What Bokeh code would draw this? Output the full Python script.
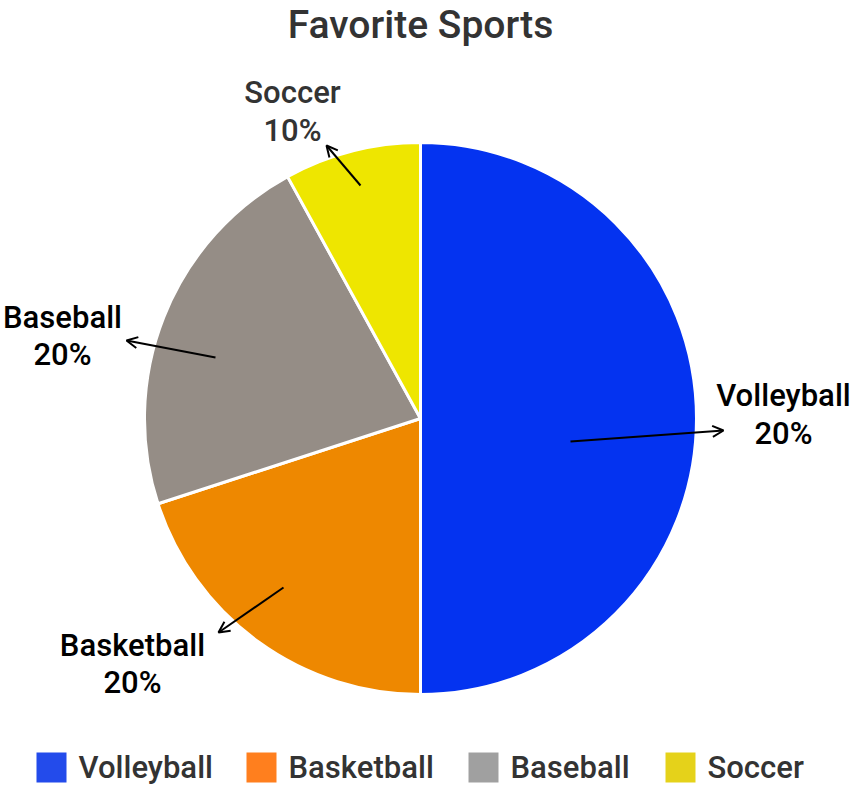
import math
from bokeh.plotting import figure
from bokeh.models import Range1d, Arrow, OpenHead, ColumnDataSource
from bokeh.core.properties import value
from bokeh.embed import file_html
from bokeh.resources import INLINE

# ---- data ----
categories = ["Volleyball", "Basketball", "Baseball", "Soccer"]
counts = [25, 10, 11, 4]
label_pcts = ["20%", "20%", "20%", "10%"]
slice_colors = ["#0433F0", "#EE8800", "#958D86", "#EEE600"]
legend_colors = ["#234BEB", "#FF7F1E", "#A0A0A0", "#E5D21A"]
title = "Favorite Sports"

# ---- layout (page pixels -> data) ----
W, H = 853, 786
def P(px, py):
    return px, H - py

FONT = value("Roboto Medium, Roboto")
TXT_SHIFT = 12  # renderer draws alphabetic baseline lower than requested
cx, cy = P(420, 418)
R = 276

p = figure(width=W, height=H, x_range=Range1d(0, W), y_range=Range1d(0, H),
           output_backend="svg", toolbar_location=None, min_border=0)
p.xaxis.visible = False
p.yaxis.visible = False
p.grid.visible = False
p.outline_line_color = None

total = sum(counts)
starts, ends = [], []
cum = 0
for c in counts:
    s = math.pi / 2 - 2 * math.pi * cum / total
    e = s - 2 * math.pi * c / total
    starts.append(s)
    ends.append(e)
    cum += c

src = ColumnDataSource(dict(start=starts, end=ends, color=slice_colors))
p.wedge(x=cx, y=cy, radius=R, start_angle="start", end_angle="end",
        direction="clock", fill_color="color", line_color="white",
        line_width=3, source=src)

# title
tx, ty = P(420, 37 - 13)
p.text(x=[tx], y=[ty], text=[title], text_font=FONT, text_font_size="39px",
       text_color="#333333", text_align="center", text_baseline="alphabetic")

# data labels: (line1 center x, line1 baseline y, line2 baseline y), arrow tail, arrow head
label_layout = [
    ((783, 407, 445), (570, 441), (723, 430), "#000000"),
    ((132, 657, 694), (283, 587), (218, 632), "#000000"),
    ((62, 329, 366), (215, 357), (126, 340), "#000000"),
    ((292, 104, 142), (360, 185), (326, 145), "#333333"),
]
for name, pct, (lab, tail, head, col) in zip(categories, label_pcts, label_layout):
    x1, y1 = P(lab[0], lab[1] - TXT_SHIFT)
    _, y2 = P(lab[0], lab[2] - TXT_SHIFT)
    p.text(x=[x1, x1], y=[y1, y2], text=[name, pct], text_font=FONT,
           text_font_size="31px", text_color=col, text_align="center",
           text_baseline="alphabetic")
    xs, ys = P(*tail)
    xe, ye = P(*head)
    p.add_layout(Arrow(x_start=xs, y_start=ys, x_end=xe, y_end=ye,
                       line_color="black", line_width=2,
                       end=OpenHead(size=11, line_color="black", line_width=2)))

# legend
legend_x = [36, 246, 468, 665]
sq = 30
for name, col, lx in zip(categories, legend_colors, legend_x):
    x0, y0 = P(lx + sq / 2, 767)
    p.rect(x=[x0], y=[y0], width=sq, height=sq, fill_color=col, line_color=None)
    tx, ty = P(lx + sq + 12, 779 - TXT_SHIFT)
    p.text(x=[tx], y=[ty], text=[name], text_font=FONT, text_font_size="31px",
           text_color="#333333", text_align="left", text_baseline="alphabetic")

open("out.html", "w").write(file_html(p, INLINE))
